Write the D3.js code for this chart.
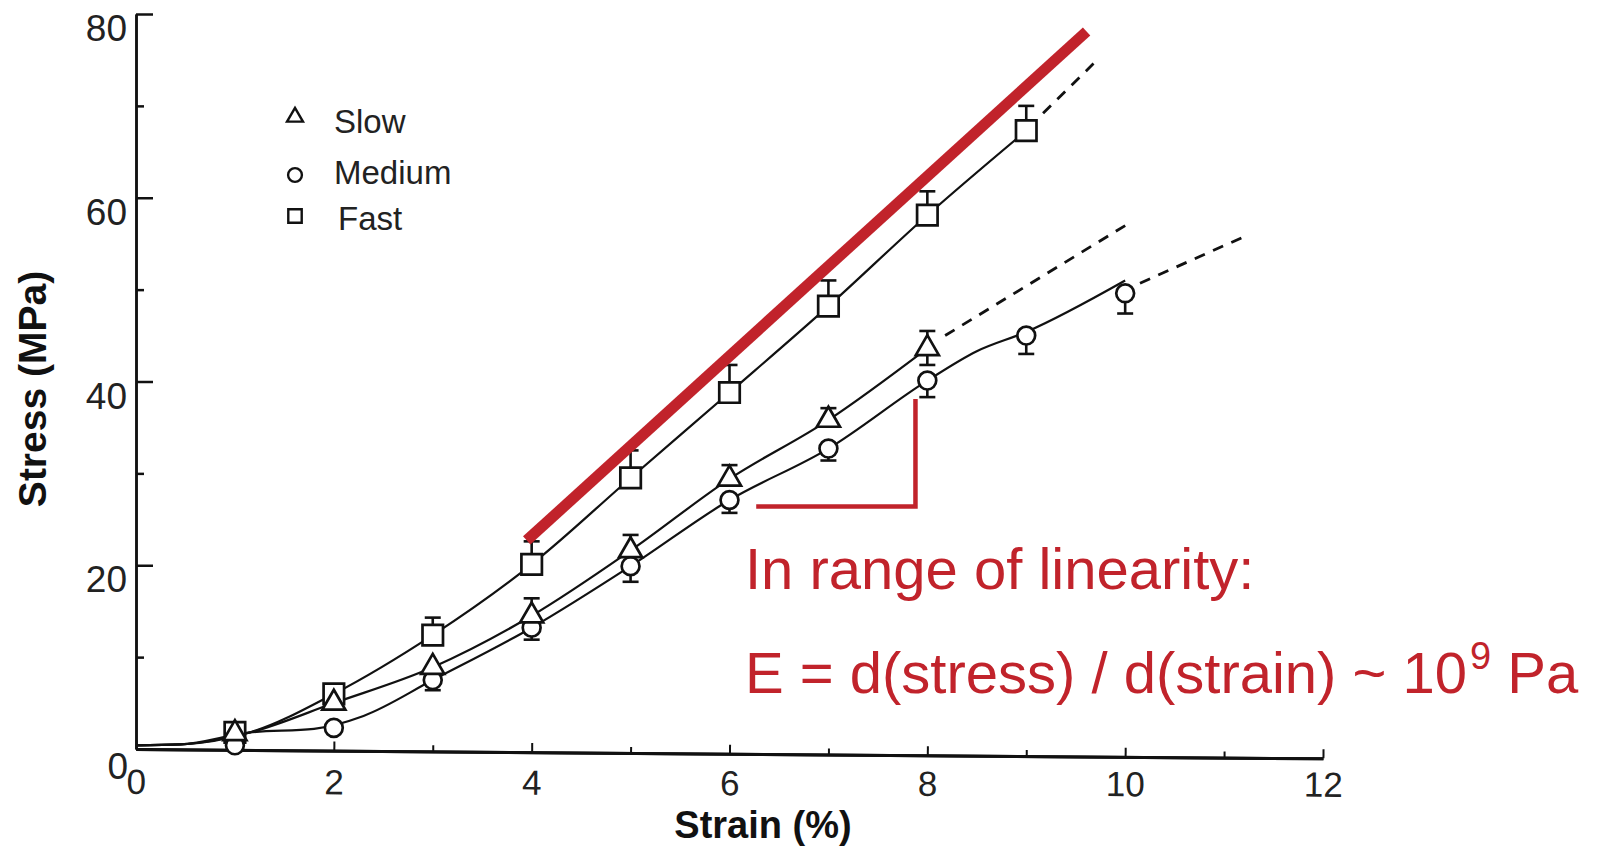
<!DOCTYPE html>
<html><head><meta charset="utf-8">
<script src="https://cdn.jsdelivr.net/npm/d3@7"></script>
<style>html,body{margin:0;background:#fff;} svg{display:block;font-family:"Liberation Sans",Arial,Helvetica,sans-serif;}</style>
</head><body>
<svg id="chart" width="1606" height="848"></svg>
<script>
// ---------- data ----------
const xTickValues = [0, 2, 4, 6, 8, 10, 12];
const xMinorTicks = [1, 3, 5, 7, 9, 11];
const yTickValues = [0, 20, 40, 60, 80];
const yMinorTicks = [10, 30, 50, 70];

const seriesNames = ["Slow", "Medium", "Fast"];

const slowStrain = [1, 2, 3, 4, 5, 6, 7, 8];
const slowStress = [1.7, 5.0, 8.9, 14.5, 21.6, 29.4, 35.8, 43.6];
const slowErrUp = [0, 0, 0, 1.9, 1.7, 1.5, 1.3, 1.9];
const slowErrDown = [0, 0, 0, 0, 0, 0, 0, 1.8];

const mediumStrain = [1, 2, 3, 4, 5, 6, 7, 8, 9, 10];
const mediumStress = [0.4, 2.3, 7.5, 13.2, 19.9, 27.1, 32.7, 40.1, 45.0, 49.6];
const mediumErrDown = [0, 0, 1.1, 1.3, 1.7, 1.4, 1.3, 1.8, 2.0, 2.2];

const fastStrain = [1, 2, 3, 4, 5, 6, 7, 8, 9];
const fastStress = [1.8, 6.0, 12.4, 20.1, 29.5, 38.8, 48.2, 58.1, 67.3];
const fastErrUp = [0, 0, 1.9, 2.5, 3.0, 3.0, 2.8, 2.6, 2.7];

// traced curve knots (hand-drawn lines in the figure)
const slowLine = [[0, 0.4], [0.45, 0.5], [1.15, 1.8], [2, 5.0], [3, 8.9], [4, 14.5], [5, 21.6], [6, 29.4], [7, 35.8], [8, 43.6]];
const mediumLine = [[0, 0.4], [0.45, 0.5], [1.15, 1.8], [1.8, 2.2], [2.3, 3.6], [3, 7.5], [4, 13.2], [5, 19.9], [6, 27.1], [7, 32.7], [8, 40.1], [8.5, 43.3], [9, 45.4], [10, 51.0]];
const fastLine = [[0, 0.4], [0.45, 0.5], [1.15, 1.8], [2, 6.0], [3, 12.4], [4, 20.1], [5, 29.5], [6, 38.8], [7, 48.2], [8, 58.1], [9, 67.3]];

const slowDash = [[8.18, 45.0], [10.02, 57.1]];
const mediumDash = [[10.15, 50.7], [11.19, 55.7]];
const fastDash = [[9.17, 69.2], [9.68, 74.6]];

const redLine = [[3.95, 22.7], [9.61, 78.1]];
const redBracket = [[6.27, 26.4], [7.88, 26.4], [7.88, 38.1]];

const annotationLine1 = "In range of linearity:";
const annotationLine2a = "E = d(stress) / d(strain) ~ 10";
const annotationSup = "9";
const annotationLine2b = " Pa";
const xAxisTitle = "Strain (%)";
const yAxisTitle = "Stress (MPa)";

// ---------- drawing ----------
const svg = d3.select("#chart");
const x = d3.scaleLinear().domain([0, 12]).range([136, 1323]);
const y = d3.scaleLinear().domain([0, 80]).range([749, 14]);
const RED = "#c1232b";
const INK = "#111";
const TILT = 0.45;
const tanT = Math.tan(TILT * Math.PI / 180);

// x axis (slightly tilted like the scan; labels kept nearly level)
const gx = svg.append("g").attr("transform", `translate(0,${y(0)}) rotate(${TILT},${x(0)},0)`);
gx.call(d3.axisBottom(x).tickValues(xTickValues).tickSize(-9).tickSizeOuter(0).tickPadding(20).tickFormat(d3.format("d")));
gx.append("g").call(d3.axisBottom(x).tickValues(xMinorTicks).tickSize(-6).tickSizeOuter(0).tickFormat(""));
gx.selectAll(".domain").attr("stroke", INK).attr("stroke-width", 3);
gx.selectAll(".tick line").attr("stroke", INK).attr("stroke-width", 2);
gx.selectAll(".tick text").attr("font-size", 35).attr("fill", "#222")
  .attr("font-family", "Liberation Sans, Arial, sans-serif")
  .attr("y", d => 20 - (x(d) - x(0)) * tanT * 0.7);

// y axis
const gy = svg.append("g").attr("transform", `translate(${x(0)},0)`);
gy.call(d3.axisLeft(y).tickValues(yTickValues).tickSize(-17).tickSizeOuter(0).tickPadding(9).tickFormat(d3.format("d")));
gy.append("g").call(d3.axisLeft(y).tickValues(yMinorTicks).tickSize(-8).tickSizeOuter(0).tickFormat(""));
gy.selectAll(".domain").attr("stroke", INK).attr("stroke-width", 2.5);
gy.selectAll(".tick line").attr("stroke", INK).attr("stroke-width", 2.5);
gy.selectAll(".tick text").attr("font-size", 37).attr("fill", "#222").attr("dy", "0.72em")
  .attr("font-family", "Liberation Sans, Arial, sans-serif");
gy.selectAll(".tick").filter(d => d === 0).select("text").attr("dy", "0.8em").attr("x", -8);

// axis titles
svg.append("text").attr("x", 763).attr("y", 838).attr("text-anchor", "middle")
  .attr("font-size", 38).attr("font-weight", "bold").attr("fill", INK).text(xAxisTitle);
svg.append("text").attr("transform", `translate(46,389) rotate(-90)`).attr("text-anchor", "middle")
  .attr("font-size", 39).attr("font-weight", "bold").attr("fill", INK).text(yAxisTitle);

// curves
const line = d3.line().x(d => x(d[0])).y(d => y(d[1])).curve(d3.curveMonotoneX);
const straight = d3.line().x(d => x(d[0])).y(d => y(d[1]));
[slowLine, mediumLine, fastLine].forEach(pts => {
  svg.append("path").attr("d", line(pts)).attr("fill", "none").attr("stroke", INK).attr("stroke-width", 2.2);
});
[slowDash, mediumDash, fastDash].forEach(pts => {
  svg.append("path").attr("d", straight(pts)).attr("fill", "none").attr("stroke", INK)
    .attr("stroke-width", 2.8).attr("stroke-dasharray", "11,9");
});

// error bars
function errorBars(xs, ys, ups, downs) {
  const g = svg.append("g").attr("stroke", INK).attr("stroke-width", 2.6);
  xs.forEach((sx, i) => {
    const u = ups ? ups[i] : 0, dn = downs ? downs[i] : 0;
    if (u > 0) {
      g.append("line").attr("x1", x(sx)).attr("x2", x(sx)).attr("y1", y(ys[i])).attr("y2", y(ys[i] + u));
      g.append("line").attr("x1", x(sx) - 8).attr("x2", x(sx) + 8).attr("y1", y(ys[i] + u)).attr("y2", y(ys[i] + u));
    }
    if (dn > 0) {
      g.append("line").attr("x1", x(sx)).attr("x2", x(sx)).attr("y1", y(ys[i])).attr("y2", y(ys[i] - dn));
      g.append("line").attr("x1", x(sx) - 8).attr("x2", x(sx) + 8).attr("y1", y(ys[i] - dn)).attr("y2", y(ys[i] - dn));
    }
  });
}
errorBars(slowStrain, slowStress, slowErrUp, slowErrDown);
errorBars(mediumStrain, mediumStress, null, mediumErrDown);
errorBars(fastStrain, fastStress, fastErrUp, null);

// markers
const symTri = d3.symbol().type(d3.symbolTriangle).size(230);
const symSq = d3.symbol().type(d3.symbolSquare).size(420);
const symCi = d3.symbol().type(d3.symbolCircle).size(250);
function markers(xs, ys, sym) {
  svg.append("g").selectAll("path").data(xs).join("path")
    .attr("d", sym()).attr("transform", (d, i) => `translate(${x(d)},${y(ys[i])})`)
    .attr("fill", "#fff").attr("stroke", INK).attr("stroke-width", 2.7);
}
markers(fastStrain, fastStress, symSq);
markers(mediumStrain, mediumStress, symCi);
markers(slowStrain, slowStress, symTri);

// legend
const legendSyms = [d3.symbol().type(d3.symbolTriangle).size(110), d3.symbol().type(d3.symbolCircle).size(150), d3.symbol().type(d3.symbolSquare).size(180)];
const legendY = [117, 175, 216];
const legendTextY = [133, 184, 230];
const legendTextX = [334, 334, 338];
seriesNames.forEach((name, i) => {
  svg.append("path").attr("d", legendSyms[i]()).attr("transform", `translate(295,${legendY[i]})`)
    .attr("fill", "#fff").attr("stroke", INK).attr("stroke-width", 2.4);
  svg.append("text").attr("x", legendTextX[i]).attr("y", legendTextY[i]).attr("font-size", 33)
    .attr("fill", "#222").text(name);
});

// red annotation
svg.append("path").attr("d", straight(redLine)).attr("stroke", RED).attr("stroke-width", 11).attr("fill", "none");
svg.append("path").attr("d", straight(redBracket)).attr("stroke", RED).attr("stroke-width", 4.5).attr("fill", "none");
svg.append("text").attr("x", 745).attr("y", 589).attr("font-size", 58).attr("fill", RED).text(annotationLine1);
const t2 = svg.append("text").attr("x", 745).attr("y", 693).attr("font-size", 58).attr("fill", RED);
t2.append("tspan").text(annotationLine2a);
t2.append("tspan").attr("font-size", 38).attr("dy", -24).attr("dx", 3).text(annotationSup);
t2.append("tspan").attr("dy", 24).text(annotationLine2b);
</script>
</body></html>
